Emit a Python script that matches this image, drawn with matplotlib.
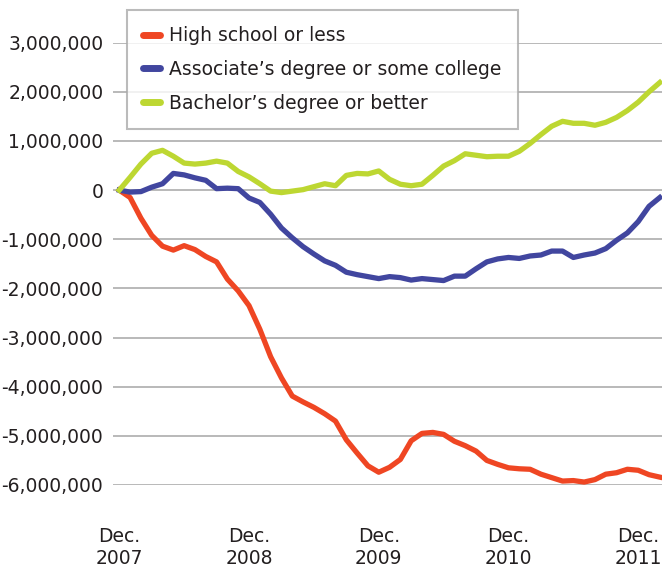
import matplotlib
matplotlib.use('Agg')
import matplotlib.pyplot as plt
from matplotlib.ticker import FuncFormatter

# monthly change since Dec. 2007 (millions), Dec 2007 .. Feb 2012
high_school = [0, -0.15, -0.57, -0.92, -1.14, -1.22, -1.13, -1.21, -1.35, -1.46,
               -1.81, -2.05, -2.35, -2.83, -3.39, -3.82, -4.19, -4.31, -4.42, -4.55,
               -4.70, -5.08, -5.35, -5.61, -5.74, -5.64, -5.48, -5.10, -4.95, -4.93,
               -4.97, -5.11, -5.20, -5.31, -5.50, -5.58, -5.65, -5.67, -5.68, -5.78,
               -5.85, -5.92, -5.91, -5.94, -5.89, -5.78, -5.75, -5.68, -5.70, -5.79,
               -5.84]
associate = [0, -0.04, -0.03, 0.06, 0.13, 0.34, 0.31, 0.25, 0.20, 0.03,
             0.04, 0.03, -0.16, -0.25, -0.49, -0.77, -0.97, -1.15, -1.30, -1.44,
             -1.53, -1.67, -1.72, -1.76, -1.80, -1.76, -1.78, -1.83, -1.80, -1.82,
             -1.84, -1.75, -1.75, -1.60, -1.46, -1.40, -1.37, -1.39, -1.34, -1.32,
             -1.24, -1.24, -1.37, -1.32, -1.28, -1.19, -1.02, -0.87, -0.64, -0.33,
             -0.15]
bachelor = [0, 0.26, 0.53, 0.75, 0.81, 0.69, 0.55, 0.53, 0.55, 0.59,
            0.55, 0.38, 0.27, 0.13, -0.02, -0.05, -0.02, 0.01, 0.07, 0.13,
            0.09, 0.30, 0.34, 0.33, 0.39, 0.22, 0.12, 0.09, 0.12, 0.30,
            0.49, 0.60, 0.74, 0.71, 0.68, 0.69, 0.69, 0.79, 0.95, 1.13,
            1.30, 1.40, 1.36, 1.36, 1.32, 1.38, 1.48, 1.62, 1.79, 2.00,
            2.19]

labels = ['High school or less', 'Associate\u2019s degree or some college',
          'Bachelor\u2019s degree or better']
colors = ['#EF4623', '#41469F', '#BDD732']
tick_pos = [0, 12, 24, 36, 48]
tick_labels = ['Dec.\n2007', 'Dec.\n2008', 'Dec.\n2009', 'Dec.\n2010', 'Dec.\n2011']
y_ticks = [3, 2, 1, 0, -1, -2, -3, -4, -5, -6]

plt.rcParams['font.family'] = 'DejaVu Sans'
fig = plt.figure(figsize=(6.62, 5.68), dpi=100)
ax = fig.add_axes([113 / 662, 1 - 485 / 568, 1 - 113 / 662, (485 - 42.7) / 568])

months = range(len(high_school))
for series, lab, col in zip([high_school, associate, bachelor], labels, colors):
    ax.plot(months, [v * 1e6 for v in series], color=col, lw=3.8, label=lab,
            solid_joinstyle='round', clip_on=False)

ax.set_xlim(-0.58, 50.2)
ax.set_ylim(-6e6, 3e6)
ax.set_yticks([v * 1e6 for v in y_ticks])
ax.yaxis.set_major_formatter(FuncFormatter(lambda v, p: '{:,.0f}'.format(v)))
ax.set_xticks(tick_pos)
ax.set_xticklabels(tick_labels)
ax.tick_params(axis='both', length=0, labelsize=13.5, colors='#231f20')
ax.tick_params(axis='y', pad=7)
ax.tick_params(axis='x', pad=30)
ax.grid(axis='y', color='#b3b3b3', lw=1.3)
ax.set_axisbelow(True)
for s in ax.spines.values():
    s.set_visible(False)

leg = ax.legend(loc='upper left', bbox_to_anchor=(127 / 662, 1 - 10 / 568),
                bbox_transform=fig.transFigure, fontsize=13.5, frameon=True,
                fancybox=False, borderaxespad=0, borderpad=0.86,
                handlelength=0.9, handletextpad=0.5, labelspacing=0.79)
leg.get_frame().set_edgecolor('#aaaaaa')
leg.get_frame().set_linewidth(1.5)
for t in leg.get_texts():
    t.set_color('#231f20')
for h in leg.get_lines():
    h.set_linewidth(5)
    h.set_solid_capstyle('round')

fig.savefig('out.png', dpi=100)
